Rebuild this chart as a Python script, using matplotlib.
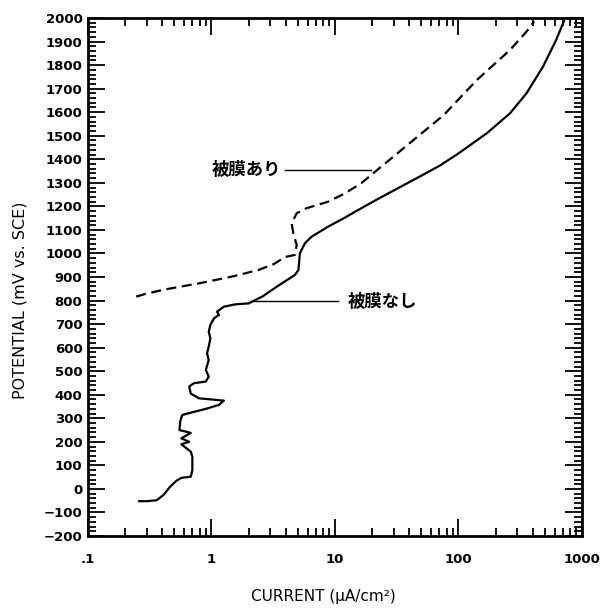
import numpy as np
import matplotlib
matplotlib.use('Agg')
import matplotlib.pyplot as plt
from matplotlib.ticker import FixedLocator, MultipleLocator, LogLocator, NullFormatter

# without film (solid line): current (uA/cm2), potential (mV vs. SCE)
bare_i = [0.26, 0.30, 0.36, 0.41, 0.46, 0.52, 0.57, 0.68, 0.70, 0.70, 0.68,
          0.57, 0.66, 0.57, 0.68, 0.55, 0.56, 0.58, 0.68, 0.90, 1.15, 1.26,
          1.00, 0.79, 0.68, 0.66, 0.72, 0.90, 0.95, 0.90, 0.95, 0.92, 0.95,
          0.98, 0.95, 0.98, 1.05, 1.15, 1.11, 1.26, 1.56, 2.0, 2.6, 3.4,
          4.74, 5.06, 5.2, 5.7, 6.45, 8.8, 12, 16.3, 22, 30, 46, 70, 100,
          169, 261, 355, 483, 618, 721]
bare_e = [-52, -52, -48, -25, 8, 35, 47, 52, 80, 137, 158,
          190, 200, 215, 238, 250, 290, 314, 324, 340, 357, 375,
          380, 385, 405, 435, 449, 456, 477, 505, 548, 576, 604,
          640, 668, 697, 725, 739, 753, 774, 784, 788, 818, 860,
          909, 930, 1001, 1043, 1071, 1114, 1152, 1192, 1230, 1268, 1320, 1372, 1425,
          1510, 1595, 1680, 1793, 1907, 1992]

# with film (dashed line)
film_i = [0.246, 0.30, 0.428, 0.79, 1.47, 2.4, 3.2, 3.94, 4.74, 4.9, 4.6,
          4.46, 4.9, 5.87, 8.8, 12, 16.3, 22, 30, 41, 76, 141, 261, 355, 410]
film_e = [817, 830, 848, 873, 902, 930, 955, 985, 994, 1036, 1086,
          1128, 1171, 1192, 1220, 1255, 1298, 1355, 1413, 1472, 1588, 1737,
          1864, 1942, 1985]

xticks = [0.1, 1, 10, 100, 1000]
xticklabels = ['.1', '1', '10', '100', '1000']
yticks = list(range(-200, 2001, 100))

jp = ['Noto Sans CJK JP', 'DejaVu Sans']

fig = plt.figure(figsize=(6.08, 6.11), dpi=100)
ax = fig.add_axes([0.1447, 0.1227, 0.8125, 0.8478])

ax.plot(bare_i, bare_e, color='black', lw=1.6, solid_joinstyle='round')
ax.plot(film_i, film_e, color='black', lw=1.6, dashes=(4.5, 2.5))

# leader lines
ax.plot([3.97, 19.5], [1355, 1355], color='black', lw=1.0)
ax.plot([2.07, 10.6], [798, 798], color='black', lw=1.0)
ax.text(3.7, 1355, '被膜あり', family=jp, fontsize=12.5, fontweight='bold',
        ha='right', va='center')
ax.text(12.7, 795, '被膜なし', family=jp, fontsize=12.5, fontweight='bold',
        ha='left', va='center')

ax.set_xscale('log')
ax.set_xlim(0.1, 1000)
ax.set_ylim(-200, 2000)

ax.xaxis.set_major_locator(FixedLocator(xticks))
ax.set_xticklabels(xticklabels)
ax.xaxis.set_minor_locator(LogLocator(base=10, subs=np.arange(2, 10)))
ax.xaxis.set_minor_formatter(NullFormatter())
ax.set_yticks(yticks)
ax.yaxis.set_minor_locator(MultipleLocator(20))

ax.tick_params(which='both', direction='in', top=True, right=True, width=1.3)
ax.tick_params(which='major', length=12)
ax.tick_params(which='minor', length=6)
ax.tick_params(axis='x', which='major', pad=12, labelsize=9.5)
ax.tick_params(axis='y', which='major', pad=4, labelsize=9.5)
for lab in ax.get_xticklabels() + ax.get_yticklabels():
    lab.set_fontweight('bold')

for s in ax.spines.values():
    s.set_linewidth(2)

fig.text(323 / 608, 1 - 597 / 611, 'CURRENT (μA/cm²)', ha='center', va='center',
         fontsize=11)
fig.text(20 / 608, 1 - 300 / 611, 'POTENTIAL (mV vs. SCE)', ha='center', va='center',
         rotation=90, fontsize=11.5)

fig.savefig('out.png', dpi=100)
